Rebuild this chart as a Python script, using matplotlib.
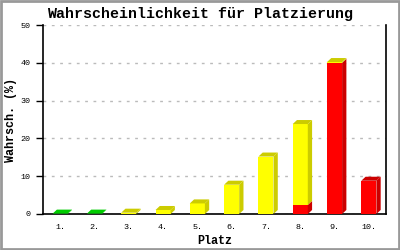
import matplotlib
matplotlib.use('Agg')
import matplotlib.pyplot as plt
from matplotlib.patches import Polygon, Rectangle

plt.rcParams['font.family'] = ['Liberation Mono', 'DejaVu Sans Mono']

# Daten: Wahrscheinlichkeit je Platz (%), gestapelt rot -> gelb -> gruen
plaetze = ['1.', '2.', '3.', '4.', '5.', '6.', '7.', '8.', '9.', '10.']
rot = [0, 0, 0, 0, 0, 0, 0, 2.4, 40.0, 8.8]
gelb = [0, 0, 0.35, 1.06, 2.8, 7.75, 15.2, 21.4, 0.2, 0]
gruen = [0.1, 0.1, 0, 0, 0, 0, 0, 0, 0, 0]

serien = [
    (rot, '#ff0000', '#cc0000'),
    (gelb, '#ffff00', '#cccc00'),
    (gruen, '#00ee00', '#00cc00'),
]

breite = 0.44
dx, dy = 0.125, 1.06   # 3D-Tiefe in Datenkoordinaten

fig = plt.figure(figsize=(4, 2.5), dpi=100)
ax = fig.add_axes([0.1075, 0.144, 0.8575, 0.756])

for i in range(len(plaetze)):
    x0 = i + 1 - breite / 2
    x1 = i + 1 + breite / 2
    unten = 0
    oben_farbe = None
    for werte, vorne, seite in serien:
        h = werte[i]
        if h <= 0:
            continue
        ax.bar(i + 1, h, width=breite, bottom=unten, color=vorne,
               linewidth=0, zorder=3)
        ax.add_patch(Polygon([(x1, unten), (x1 + dx, unten + dy),
                              (x1 + dx, unten + h + dy), (x1, unten + h)],
                             closed=True, facecolor=seite, edgecolor='none', zorder=3))
        unten += h
        oben_farbe = seite
    if oben_farbe is not None:
        ax.add_patch(Polygon([(x0, unten), (x1, unten), (x1 + dx, unten + dy),
                              (x0 + dx, unten + dy)],
                             closed=True, facecolor=oben_farbe, edgecolor='none', zorder=3))

ax.set_xlim(0.5, 10.5)
ax.set_ylim(0, 50)
ax.set_xticks(range(1, len(plaetze) + 1))
ax.set_xticklabels(plaetze, fontsize=6)
ax.set_yticks(range(0, 51, 10))
ax.tick_params(axis='x', length=0, pad=7)
ax.tick_params(axis='y', length=5, width=1, labelsize=6, pad=4)
ax.yaxis.grid(True, linestyle=(0, (2, 4)), color='#bbbbbb', linewidth=1)
ax.set_axisbelow(True)
ax.spines['top'].set_visible(False)
for s in ['left', 'bottom', 'right']:
    ax.spines[s].set_linewidth(1.2)

ax.set_xlabel('Platz', fontsize=8.5, fontweight='bold', labelpad=3)
ax.set_ylabel('Wahrsch. (%)', fontsize=8.5, fontweight='bold')
ax.yaxis.set_label_coords(-0.075, 0.5)
fig.text(0.5, 0.943, 'Wahrscheinlichkeit für Platzierung', ha='center', va='center',
         fontsize=10.8, fontweight='bold')

# grauer Rahmen
fig.patches.append(Rectangle((0.002, 0.003), 0.995, 0.994, transform=fig.transFigure,
                             fill=False, edgecolor='#999999', linewidth=2))

fig.savefig('out.png', dpi=100, facecolor='white')
